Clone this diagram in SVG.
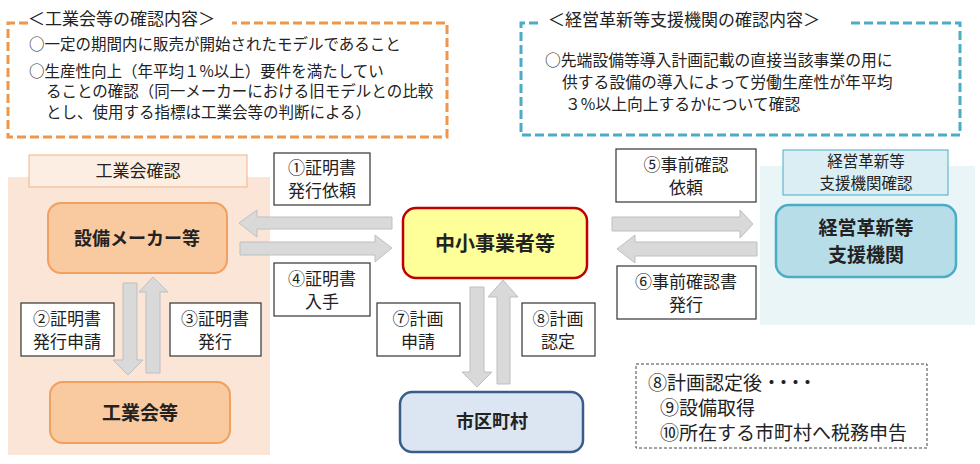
<svg xmlns="http://www.w3.org/2000/svg" width="980" height="464" viewBox="0 0 980 464">
<style>
text{font-family:"Noto Sans CJK JP","Noto Sans CJK SC",sans-serif;fill:#222;}
.t16{font-size:15.5px;}
.t16r{font-size:15.8px;}
.lbl{font-size:17px;text-anchor:middle;}
.node{font-size:19px;font-weight:bold;text-anchor:middle;}
.note{font-size:19px;}
.box{fill:#fff;stroke:#333;stroke-width:1.2;}
.arr{fill:#d9d9d9;stroke:#bfbfbf;stroke-width:1;}
</style>
<rect width="980" height="464" fill="#fff"/>

<g id="kogyokai-content">
<path d="M28,23 L8,23 L8,137 L447,137 L447,23 L232,23" fill="none" stroke="#f0964a" stroke-width="3" stroke-dasharray="9 4"/>
<text x="28" y="25" style="font-size:17px">＜工業会等の確認内容＞</text>
<text class="t16" x="29" y="50">○一定の期間内に販売が開始されたモデルであること</text>
<text class="t16" x="29" y="77">○生産性向上（年平均１%以上）要件を満たしてい</text>
<text class="t16" x="46" y="97">ることの確認（同一メーカーにおける旧モデルとの比較</text>
<text class="t16" x="46" y="118">とし、使用する指標は工業会等の判断による）</text>
</g>

<g id="shien-content">
<path d="M538,23 L521,23 L521,135 L960,135 L960,23 L848,23" fill="none" stroke="#4bacc6" stroke-width="3" stroke-dasharray="9 4"/>
<text x="548" y="26" style="font-size:17px">＜経営革新等支援機関の確認内容＞</text>
<text class="t16r" x="545" y="66">○先端設備等導入計画記載の直接当該事業の用に</text>
<text class="t16r" x="562" y="88">供する設備の導入によって労働生産性が年平均</text>
<text class="t16r" x="565" y="110">３%以上向上するかについて確認</text>
</g>

<g id="kogyokai-area">
<rect x="8" y="177" width="262" height="278" fill="#fbe5d6"/>
<rect x="29" y="155" width="218" height="32" fill="#fdeee4" stroke="#f4b183" stroke-width="1"/>
<text class="lbl" x="138" y="177">工業会確認</text>
</g>

<g id="shien-area">
<rect x="760" y="166" width="215" height="159" fill="#eaf5f8"/>
<rect x="783" y="150" width="165" height="45" fill="#daeef3" stroke="#4bacc6" stroke-width="1"/>
<text class="lbl" x="866" y="167" style="font-size:15.5px">経営革新等</text>
<text class="lbl" x="866" y="189" style="font-size:15.5px">支援機関確認</text>
</g>

<g id="connectors">
<polygon class="arr" points="239,223 257,210 257,217 392,217 392,229 257,229 257,237"/>
<polygon class="arr" points="240,242 375,242 375,235 392,248 375,262 375,255 240,255"/>
<polygon class="arr" points="612,217 740,217 740,210 753,224 740,238 740,231 612,231"/>
<polygon class="arr" points="617,249 635,235 635,242 757,242 757,256 635,256 635,263"/>
<polygon class="arr" points="123,283 137,283 137,360 143,360 128,375 113,360 123,360"/>
<polygon class="arr" points="146,373 160,373 160,292 168,292 153,277 139,292 146,292"/>
<polygon class="arr" points="470,287 484,287 484,372 492,372 477,387 462,372 470,372"/>
<polygon class="arr" points="497,384 510,384 510,297 518,297 503,280 488,297 497,297"/>
</g>

<g id="label1"><rect class="box" x="274" y="153" width="96" height="52"/><text class="lbl" x="322" y="174">①証明書</text><text class="lbl" x="322" y="197">発行依頼</text></g>
<g id="label4"><rect class="box" x="274" y="263" width="96" height="53"/><text class="lbl" x="322" y="285">④証明書</text><text class="lbl" x="322" y="308">入手</text></g>
<g id="label2"><rect class="box" x="21" y="303" width="93" height="53"/><text class="lbl" x="67" y="325">②証明書</text><text class="lbl" x="67" y="348">発行申請</text></g>
<g id="label3"><rect class="box" x="170" y="303" width="91" height="53"/><text class="lbl" x="215" y="325">③証明書</text><text class="lbl" x="215" y="348">発行</text></g>
<g id="label5"><rect class="box" x="616" y="149" width="140" height="53"/><text class="lbl" x="686" y="171">⑤事前確認</text><text class="lbl" x="686" y="194">依頼</text></g>
<g id="label6"><rect class="box" x="617" y="266" width="139" height="53"/><text class="lbl" x="686" y="288">⑥事前確認書</text><text class="lbl" x="686" y="311">発行</text></g>
<g id="label7"><rect class="box" x="377" y="303" width="83" height="53"/><text class="lbl" x="418" y="325">⑦計画</text><text class="lbl" x="418" y="348">申請</text></g>
<g id="label8"><rect class="box" x="522" y="303" width="73" height="53"/><text class="lbl" x="558" y="325">⑧計画</text><text class="lbl" x="558" y="348">認定</text></g>

<g id="node-maker">
<rect x="48" y="203" width="179" height="70" rx="13" fill="#f9c9a0" stroke="#f0a060" stroke-width="2"/>
<text class="node" x="137" y="245" style="font-size:18px">設備メーカー等</text>
</g>
<g id="node-kogyokai">
<rect x="50" y="382" width="180" height="61" rx="13" fill="#f9c9a0" stroke="#f0a060" stroke-width="2"/>
<text class="node" x="140" y="420">工業会等</text>
</g>
<g id="node-chusho">
<rect x="403" y="208" width="184" height="70" rx="13" fill="#ffff99" stroke="#c00000" stroke-width="2.5"/>
<text class="node" x="495" y="251" style="font-size:20px">中小事業者等</text>
</g>
<g id="node-shien">
<rect x="776" y="205" width="180" height="72" rx="13" fill="#b7dee8" stroke="#4bacc6" stroke-width="2.5"/>
<text class="node" x="866" y="235">経営革新等</text>
<text class="node" x="866" y="262">支援機関</text>
</g>
<g id="node-shikuchoson">
<rect x="400" y="392" width="183" height="60" rx="12" fill="#dce6f2" stroke="#385d8a" stroke-width="2.5"/>
<text class="node" x="492" y="428" style="font-size:18px">市区町村</text>
</g>

<g id="note">
<rect x="636" y="364" width="291" height="84" fill="#fff" stroke="#444" stroke-width="1" stroke-dasharray="3 2"/>
<text class="note" x="648" y="390">⑧計画認定後<tspan letter-spacing="-7">・・・・</tspan></text>
<text class="note" x="660" y="415">⑨設備取得</text>
<text class="note" x="660" y="440">⑩所在する市町村へ税務申告</text>
</g>
</svg>
